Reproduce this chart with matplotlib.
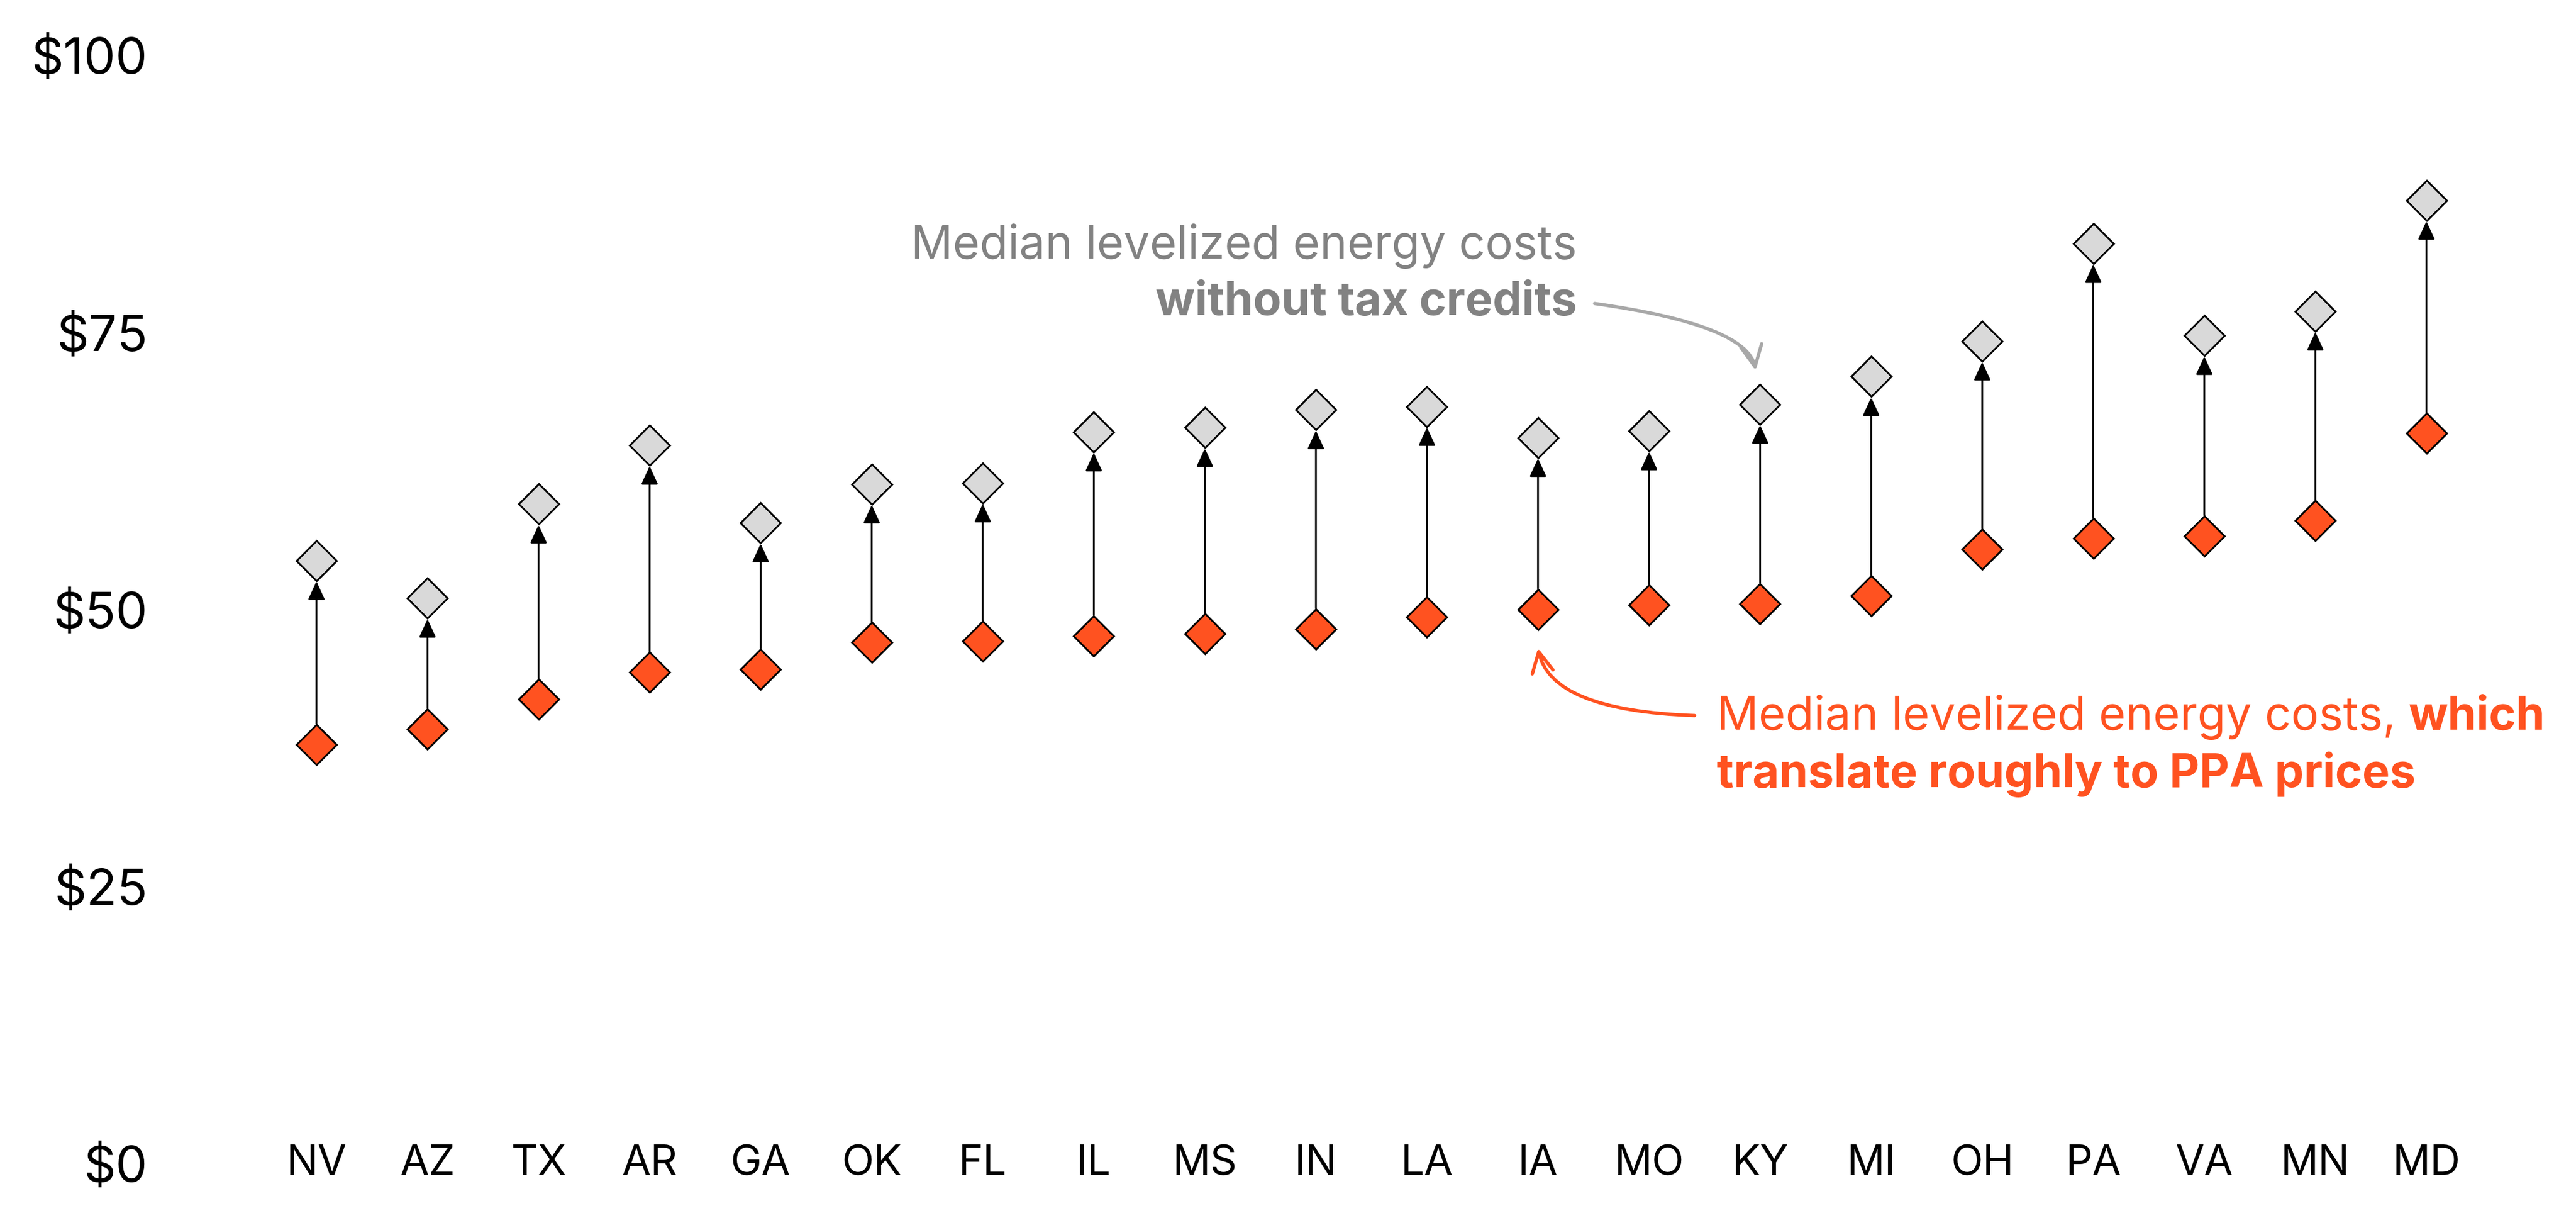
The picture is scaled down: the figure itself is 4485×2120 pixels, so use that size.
import matplotlib
matplotlib.use("Agg")
import matplotlib.pyplot as plt

plt.rcParams['font.family'] = ['Inter', 'DejaVu Sans']

states = ["NV", "AZ", "TX", "AR", "GA", "OK", "FL", "IL", "MS", "IN",
          "LA", "IA", "MO", "KY", "MI", "OH", "PA", "VA", "MN", "MD"]
# median levelized energy cost without tax credits ($/MWh)
cost_no_credit = [54.4, 51.0, 59.5, 64.8, 57.8, 61.3, 61.4, 66.0, 66.4, 68.0,
                  68.3, 65.5, 66.1, 68.5, 71.0, 74.2, 83.0, 74.7, 76.9, 86.9]
# median levelized energy cost (roughly PPA price)
cost_ppa = [37.8, 39.2, 41.9, 44.3, 44.6, 47.0, 47.1, 47.6, 47.8, 48.2,
            49.3, 50.0, 50.4, 50.5, 51.2, 55.4, 56.4, 56.6, 58.0, 65.9]
y_ticks = [0, 25, 50, 75, 100]
y_labels = ["$0", "$25", "$50", "$75", "$100"]

ORANGE = "#FF5220"
LIGHT = "#D9D9D9"
TEXT_GRAY = "#828282"
ARROW_GRAY = "#A8A8A8"
NOTE_SIZE = 19.3

fig = plt.figure(figsize=(14.95, 2120 / 300), dpi=300)
ax = fig.add_axes([0.08, 0.0448, 0.91, 0.9099])
ax.set_xlim(-0.994, 20.115)
ax.set_ylim(0, 100)
for s in ax.spines.values():
    s.set_visible(False)

xs = list(range(len(states)))

# connectors
for x, lo, hi in zip(xs, cost_ppa, cost_no_credit):
    ax.annotate("", xy=(x, hi), xytext=(x, lo),
                arrowprops=dict(arrowstyle="-|>,head_length=0.65,head_width=0.3",
                                mutation_scale=10, color="black", lw=0.75,
                                shrinkA=8.7, shrinkB=8.7),
                zorder=1)

ax.plot(xs, cost_no_credit, ls="none", marker="D", ms=12, mfc=LIGHT,
        mec="black", mew=0.75, zorder=3)
ax.plot(xs, cost_ppa, ls="none", marker="D", ms=12, mfc=ORANGE,
        mec="black", mew=0.75, zorder=3)

ax.set_yticks(y_ticks, y_labels)
ax.tick_params(axis="y", length=0, pad=24.4, labelsize=21)
ax.set_xticks([])
for x, s in zip(xs, states):
    ax.text(x, -1.04, s, ha="center", va="baseline", fontsize=17.5)

# gray annotation
ax.text(11.35, 81.65, "Median levelized energy costs", ha="right",
        va="baseline", fontsize=NOTE_SIZE, color=TEXT_GRAY)
ax.text(11.35, 76.57, "without tax credits", ha="right", va="baseline",
        fontsize=NOTE_SIZE, color=TEXT_GRAY, fontweight="bold")
ax.annotate("", xy=(12.96, 71.54), xytext=(11.51, 77.59),
            arrowprops=dict(arrowstyle="->,head_length=0.45,head_width=0.22",
                            mutation_scale=20, color=ARROW_GRAY, lw=1.4,
                            shrinkA=0, shrinkB=0,
                            connectionstyle="angle3,angleA=-8,angleB=-80"))

# orange annotation
t1 = ax.text(12.61, 39.14, "Median levelized energy costs,", ha="left",
             va="baseline", fontsize=NOTE_SIZE, color=ORANGE)
ax.text(12.61, 33.96, "translate roughly to PPA prices", ha="left",
        va="baseline", fontsize=NOTE_SIZE, color=ORANGE, fontweight="bold")
ax.annotate("", xy=(11.0, 46.5), xytext=(12.41, 40.41),
            arrowprops=dict(arrowstyle="->,head_length=0.43,head_width=0.22",
                            mutation_scale=20, color=ORANGE, lw=1.4,
                            shrinkA=0, shrinkB=0,
                            connectionstyle="angle3,angleA=-2,angleB=101"))

fig.canvas.draw()
bb = t1.get_window_extent(fig.canvas.get_renderer())
space_px = 0.28 * NOTE_SIZE * fig.dpi / 72
x_which = ax.transData.inverted().transform((bb.x1 + space_px, 0))[0]
ax.text(x_which, 39.14, "which", ha="left", va="baseline", fontsize=NOTE_SIZE,
        color=ORANGE, fontweight="bold")

fig.savefig("out.png", dpi=300)
